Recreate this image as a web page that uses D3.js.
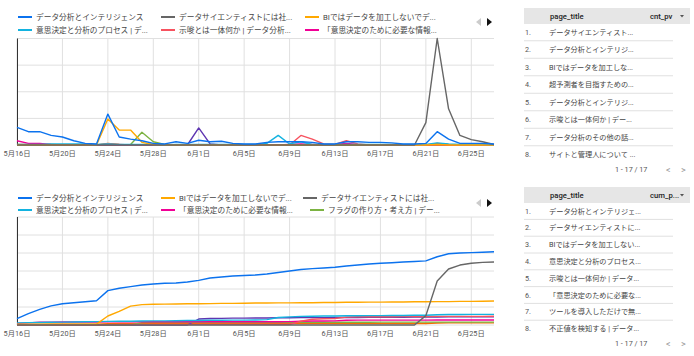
<!DOCTYPE html>
<html><head><meta charset="utf-8">
<script src="https://cdn.jsdelivr.net/npm/d3@7"></script>
<style>
body{margin:0;background:#fff;}
svg{display:block;font-family:Roboto,"Noto Sans CJK JP",sans-serif;}
</style>
</head><body>
<svg id="c" width="694" height="356"></svg>
<script>
// ---------- data ----------
const dates = ["2020-05-16","2020-05-17","2020-05-18","2020-05-19","2020-05-20","2020-05-21","2020-05-22","2020-05-23","2020-05-24","2020-05-25",
"2020-05-26","2020-05-27","2020-05-28","2020-05-29","2020-05-30","2020-05-31","2020-06-01","2020-06-02","2020-06-03","2020-06-04",
"2020-06-05","2020-06-06","2020-06-07","2020-06-08","2020-06-09","2020-06-10","2020-06-11","2020-06-12","2020-06-13","2020-06-14",
"2020-06-15","2020-06-16","2020-06-17","2020-06-18","2020-06-19","2020-06-20","2020-06-21","2020-06-22","2020-06-23","2020-06-24",
"2020-06-25","2020-06-26","2020-06-27"];
const tickDates = ["2020-05-16","2020-05-20","2020-05-24","2020-05-28","2020-06-01","2020-06-05","2020-06-09","2020-06-13","2020-06-17","2020-06-21","2020-06-25"];
const tickLabels = ["5月16日","5月20日","5月24日","5月28日","6月1日","6月5日","6月9日","6月13日","6月17日","6月21日","6月25日"];

const seriesNames = ["データ分析とインテリジェンス","データサイエンティストには社...","BIではデータを加工しないでデ...","意思決定と分析のプロセス | デ...","示唆とは一体何か | データ分析...","「意思決定のために必要な情報...","フラグの作り方・考え方 | デー...","超予測者を目指すための...","データ分析のその他の話..."];
const seriesColors = ["#0b72ee","#666666","#ffa800","#13b3e0","#f7525f","#f10096","#7cb342","#5e35b1","#f66d00"];

// daily page views (top chart)
const dAnalysis  = [33,25,25,18,15,8,3,2,58,15, 11,8,3,2,6,3,9,6,7,3, 2,2,5,6,6,6,5,2,2,6, 6,5,5,4,2,2,3,25,11,3, 3,3,2];
const dScientist = [0,0,0,0,0,0,0,0,0,0, 0,0,0,0,0,0,0,0,0,0, 0,0,0,0,0,0,0,0,0,0, 0,0,0,0,0,0,42,200,68,18, 10,6,1];
const dBI        = [0,0,0,0,0,0,0,0,49,28, 28,5,1,0,0,0,0,0,0,0, 0,0,0,0,0,0,0,0,0,0, 0,0,0,0,0,0,0,1,0,0, 0,0,0];
const dProcess   = [1,1,1,2,2,2,2,1,2,1, 1,1,1,0,1,1,1,1,1,1, 1,1,3,18,2,6,1,1,1,1, 1,1,1,1,1,1,1,4,2,1, 1,1,0];
const dSuggest   = [0,0,0,0,0,0,0,0,2,1, 0,0,0,0,0,0,0,0,0,0, 0,0,0,0,0,18,11,2,1,8, 2,0,0,0,0,0,0,1,0,0, 0,0,0];
const dInfo      = [8,3,3,1,0,0,0,0,1,0, 0,0,0,0,0,0,0,0,0,0, 0,0,0,0,1,2,1,0,1,3, 1,0,0,0,0,0,0,1,0,0, 0,0,0];
const dFlag      = [0,0,0,0,0,0,0,0,0,0, 1,24,6,1,0,0,0,0,0,0, 0,0,0,0,0,0,0,0,0,0, 0,0,0,0,0,0,0,0,0,0, 0,0,0];
const dForecast  = [0,0,0,0,0,0,0,0,0,0, 0,0,0,0,0,0,32,2,0,0, 0,0,0,0,0,0,0,0,0,0, 0,0,0,0,0,0,0,0,0,0, 0,0,0];
const dOther     = [1,1,1,1,0,0,0,0,3,1, 0,0,0,0,0,0,0,0,0,0, 0,0,0,0,0,0,0,0,0,0, 0,0,0,0,0,0,0,3,1,0, 0,0,0];

// cumulative page views (bottom chart)
const cAnalysis  = [35,63,87,106,118,124,129,135,191,204, 213,222,228,232,233,239,248,261,267,272, 275,278,283,292,300,308,313,317,321,328, 333,339,343,346,350,353,356,379,396,400, 402,404,407];
const cScientist = [0,0,0,0,0,0,0,0,0,0, 0,0,0,0,0,0,0,0,0,0, 0,0,0,0,0,0,0,0,0,0, 0,0,0,0,0,0,52,244,311,333, 343,348,350];
const cBI        = [5,5,5,5,5,5,5,5,50,76, 105,113,115,116,117,118,118,119,120,120, 121,122,122,123,123,124,124,125,125,126, 126,127,127,128,128,129,129,130,130,131, 131,132,133];
const cProcess   = [12,13,14,15,16,17,18,19,20,21, 21,22,23,23,24,25,25,26,26,27, 27,28,30,42,45,48,49,50,50,51, 51,52,52,53,53,54,54,57,58,58, 59,59,59];
const cSuggest   = [0,0,0,0,0,0,0,0,2,3, 3,3,3,3,3,3,3,3,3,3, 3,3,3,3,3,21,32,35,36,44, 46,46,46,46,47,47,47,48,48,48, 48,48,49];
const cInfo      = [9,12,15,16,17,17,17,17,18,18, 18,18,18,18,18,18,18,18,18,18, 18,18,18,18,19,21,22,22,23,26, 27,27,27,27,27,27,27,28,28,28, 28,28,28];
const cFlag      = [0,0,0,0,0,0,0,0,0,0, 1,13,15,15,15,15,15,15,15,15, 15,15,15,15,15,15,15,15,15,15, 15,15,16,16,16,16,16,16,16,16, 16,16,16];
const cForecast  = [0,0,0,0,0,0,0,0,0,0, 0,0,0,0,0,0,33,36,37,38, 38,39,39,40,40,41,41,41,42,42, 42,43,43,43,43,44,44,44,45,45, 45,45,45];
const cOther     = [1,2,3,4,4,4,4,4,7,8, 8,8,8,8,8,8,8,8,8,8, 8,8,8,8,8,8,8,8,8,8, 8,8,8,8,8,8,8,11,12,12, 12,12,12];

const topLegendOrder = [0,1,2,3,4,5];
const bottomLegendOrder = [0,2,1,3,5,6];

const topTableRows = ["データサイエンティスト...","データ分析とインテリジ...","BIではデータを加工しな...","超予測者を目指すための...","データ分析とインテリジ...","示唆とは一体何か | デー...","データ分析のその他の話...","サイトと管理人について ..."];
const bottomTableRows = ["データ分析とインテリジェ...","データサイエンティストに...","BIではデータを加工しない...","意思決定と分析のプロセス...","示唆とは一体何か | データ...","「意思決定のために必要な...","ツールを導入しただけで無...","不正値を検知する | データ..."];

// ---------- drawing ----------
const svg = d3.select("#c");
const parse = d3.timeParse("%Y-%m-%d");
const dts = dates.map(parse);
const dailySeries = [dAnalysis,dScientist,dBI,dProcess,dSuggest,dInfo,dFlag,dForecast,dOther];
const cumSeries = [cAnalysis,cScientist,cBI,cProcess,cSuggest,cInfo,cFlag,cForecast,cOther];

function drawChart(cfg){
  const x = d3.scaleTime().domain(d3.extent(dts)).range([17,494]);
  const y = d3.scaleLinear().domain(cfg.domain).range([cfg.bottom,cfg.top]);
  const g = svg.append("g");
  g.append("g").selectAll("line").data(y.ticks(cfg.nTicks)).join("line")
    .attr("x1",17).attr("x2",494).attr("y1",d=>y(d)).attr("y2",d=>y(d))
    .attr("stroke","#e0e0e0").attr("stroke-width",1);
  const td = tickDates.map(parse);
  g.append("g").selectAll("line").data(td).join("line")
    .attr("x1",d=>x(d)).attr("x2",d=>x(d)).attr("y1",cfg.top).attr("y2",cfg.bottom)
    .attr("stroke","#e0e0e0").attr("stroke-width",1);
  g.append("g").selectAll("text").data(td).join("text")
    .attr("x",d=>x(d)).attr("y",cfg.bottom+8).attr("text-anchor","middle")
    .attr("dominant-baseline","central").attr("font-size",7.3).attr("fill","#555")
    .text((d,i)=>tickLabels[i]);
  g.append("line").attr("x1",17.5).attr("x2",17.5).attr("y1",cfg.top).attr("y2",cfg.bottom)
    .attr("stroke","#333").attr("stroke-width",1);
  const line = d3.line().x((d,i)=>x(dts[i])).y(d=>y(d));
  const order = d3.range(cfg.series.length).reverse();
  g.append("g").selectAll("path").data(order).join("path")
    .attr("d",k=>line(cfg.series[k])).attr("fill","none")
    .attr("stroke",k=>seriesColors[k]).attr("stroke-width",1.4)
    .attr("stroke-linejoin","round");
  const lg = svg.append("g");
  cfg.legend.forEach((k,j)=>{
    const row = Math.floor(j/3), col = j%3;
    const lx = cfg.legendX[row][col], ly = cfg.legendY[row];
    lg.append("line").attr("x1",lx).attr("x2",lx+14).attr("y1",ly).attr("y2",ly)
      .attr("stroke",seriesColors[k]).attr("stroke-width",2);
    lg.append("text").attr("x",lx+18).attr("y",ly).attr("dominant-baseline","central")
      .attr("font-size",7.7).attr("fill","#444").text(seriesNames[k]);
  });
  const ay = cfg.legendY[0]+5;
  lg.append("path").attr("d",`M${481},${ay-4}L${476},${ay}L${481},${ay+4}Z`).attr("fill","#ccc");
  lg.append("path").attr("d",`M${487},${ay-4}L${492},${ay}L${487},${ay+4}Z`).attr("fill","#111");
}

drawChart({domain:[0,200],nTicks:4,top:38.5,bottom:145,series:dailySeries,legend:topLegendOrder,
  legendX:[[18,161,305],[18,161,305]],legendY:[17,30]});
drawChart({domain:[0,600],nTicks:6,top:217,bottom:325,series:cumSeries,legend:bottomLegendOrder,
  legendX:[[18,161,303],[18,161,310]],legendY:[198,210]});

function drawTable(cfg){
  const g = svg.append("g");
  g.append("rect").attr("x",524).attr("y",cfg.top).attr("width",166).attr("height",16).attr("fill","#e6e6e6");
  g.append("text").attr("x",550).attr("y",cfg.top+8).attr("dominant-baseline","central")
    .attr("font-size",7.7).attr("font-weight",500).attr("fill","#222").text("page_title");
  g.append("text").attr("x",650).attr("y",cfg.top+8).attr("dominant-baseline","central")
    .attr("font-size",7.7).attr("font-weight",500).attr("fill","#222").text(cfg.metric);
  g.append("path").attr("d",`M${680},${cfg.top+7}L${684},${cfg.top+7}L${682},${cfg.top+9.5}Z`).attr("fill","#555");
  const step = cfg.step;
  cfg.rows.forEach((t,i)=>{
    const ry = cfg.top+24+i*step;
    g.append("text").attr("x",525).attr("y",ry).attr("dominant-baseline","central")
      .attr("font-size",7.2).attr("fill","#555").text((i+1)+".");
    g.append("text").attr("x",549).attr("y",ry).attr("dominant-baseline","central")
      .attr("font-size",7.2).attr("fill","#444").text(t);
    if(i<7) g.append("line").attr("x1",524).attr("x2",673).attr("y1",ry+step/2).attr("y2",ry+step/2)
      .attr("stroke","#e0e0e0");
  });
  const py = cfg.top+24+7*step+15;
  g.append("text").attr("x",615).attr("y",py).attr("dominant-baseline","central")
    .attr("font-size",7.2).attr("fill","#555").text("1 - 17 / 17");
  g.append("text").attr("x",666).attr("y",py).attr("dominant-baseline","central")
    .attr("font-size",9).attr("fill","#999").text("<");
  g.append("text").attr("x",681).attr("y",py).attr("dominant-baseline","central")
    .attr("font-size",9).attr("fill","#999").text(">");
}
drawTable({top:8,rows:topTableRows,metric:"cnt_pv",step:17.5});
drawTable({top:187,rows:bottomTableRows,metric:"cum_p...",step:16.8});
</script>
</body></html>
